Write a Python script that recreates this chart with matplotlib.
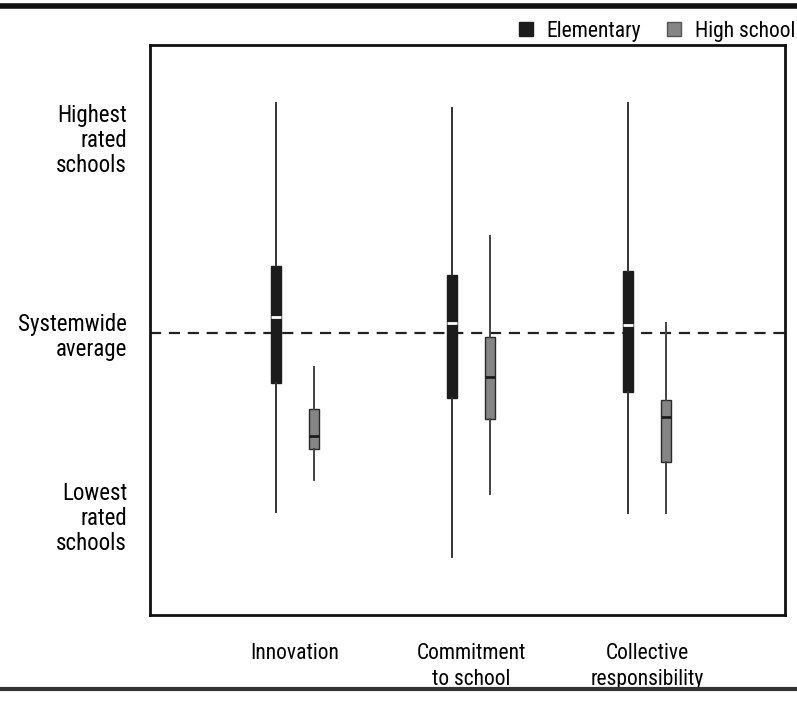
import matplotlib
matplotlib.use("Agg")
import matplotlib.pyplot as plt
from matplotlib import font_manager
from matplotlib.patches import Patch
from matplotlib.lines import Line2D

names = {f.name for f in font_manager.fontManager.ttflist}
fam = next((n for n in ["Roboto Condensed", "Archivo Narrow", "PT Sans Narrow", "Fira Sans Condensed"] if n in names), "DejaVu Sans")
plt.rcParams['font.family'] = [fam, 'DejaVu Sans']

categories = ["Innovation", "Commitment\nto school", "Collective\nresponsibility"]
# values relative to systemwide average (0)
elem_hi = [2.30, 2.25, 2.30]
elem_q3 = [0.67, 0.58, 0.62]
elem_med = [0.16, 0.10, 0.08]
elem_q1 = [-0.50, -0.65, -0.59]
elem_lo = [-1.79, -2.24, -1.80]

hs_hi = [-0.34, 0.97, 0.10]
hs_q3 = [-0.76, -0.04, -0.67]
hs_med = [-1.03, -0.44, -0.84]
hs_q1 = [-1.16, -0.86, -1.29]
hs_lo = [-1.47, -1.61, -1.80]

ytick_pos = [1.96, 0.0, -1.82]
ytick_labels = ["Highest\nrated\nschools", "Systemwide\naverage", "Lowest\nrated\nschools"]

W, H = 797, 701
fig = plt.figure(figsize=(W/100, H/100), dpi=100)
ax = fig.add_axes([150/W, 1-615/H, (785-150)/W, (615-45)/H])

def stats(hi, q3, med, q1, lo):
    return [dict(whishi=h, q3=a, med=m, q1=b, whislo=l, fliers=[]) for h, a, m, b, l in zip(hi, q3, med, q1, lo)]

pos = [1, 2, 3]
off = 0.11
ax.bxp(stats(elem_hi, elem_q3, elem_med, elem_q1, elem_lo), positions=[p - off for p in pos],
       widths=0.057, showcaps=False, patch_artist=True,
       boxprops=dict(facecolor="#1c1c1c", edgecolor="#1c1c1c", linewidth=1),
       medianprops=dict(color="white", linewidth=2),
       whiskerprops=dict(color="#333333", linewidth=1.4))
ax.bxp(stats(hs_hi, hs_q3, hs_med, hs_q1, hs_lo), positions=[p + off for p in pos],
       widths=0.057, showcaps=False, patch_artist=True,
       boxprops=dict(facecolor="#858585", edgecolor="#2a2a2a", linewidth=1),
       medianprops=dict(color="#1c1c1c", linewidth=2),
       whiskerprops=dict(color="#444444", linewidth=1.4))

ax.axhline(0, color="#222222", linewidth=1.6, linestyle=(0, (5, 3.5)), zorder=0)

ax.set_xlim(0.176, 3.784)
ax.set_ylim(-2.82, 2.88)
ax.set_xticks(pos)
ax.set_xticklabels(categories, fontsize=15.5, linespacing=1.27)
ax.set_yticks(ytick_pos)
ax.set_yticklabels(ytick_labels, fontsize=16.5, linespacing=1.12, ha="right")
ax.tick_params(axis="both", length=0)
ax.tick_params(axis="x", pad=20.5)
ax.tick_params(axis="y", pad=16.5)
for s in ax.spines.values():
    s.set_linewidth(2)
    s.set_color("#111111")

handles = [Patch(facecolor="#1c1c1c", edgecolor="#1c1c1c"), Patch(facecolor="#858585", edgecolor="#555555")]
fig.legend(handles, ["Elementary", "High school"], loc="center right",
           bbox_to_anchor=(815/W, 1-31/H), ncol=2, frameon=False, fontsize=15.5,
           handlelength=0.65, handleheight=0.65, handletextpad=0.65, columnspacing=1.2)

fig.add_artist(Line2D([0, 1], [1-6/H, 1-6/H], transform=fig.transFigure, color="#111111", linewidth=4))
fig.add_artist(Line2D([0, 1], [1-689/H, 1-689/H], transform=fig.transFigure, color="#333333", linewidth=3))

fig.savefig("out.png", dpi=100)
